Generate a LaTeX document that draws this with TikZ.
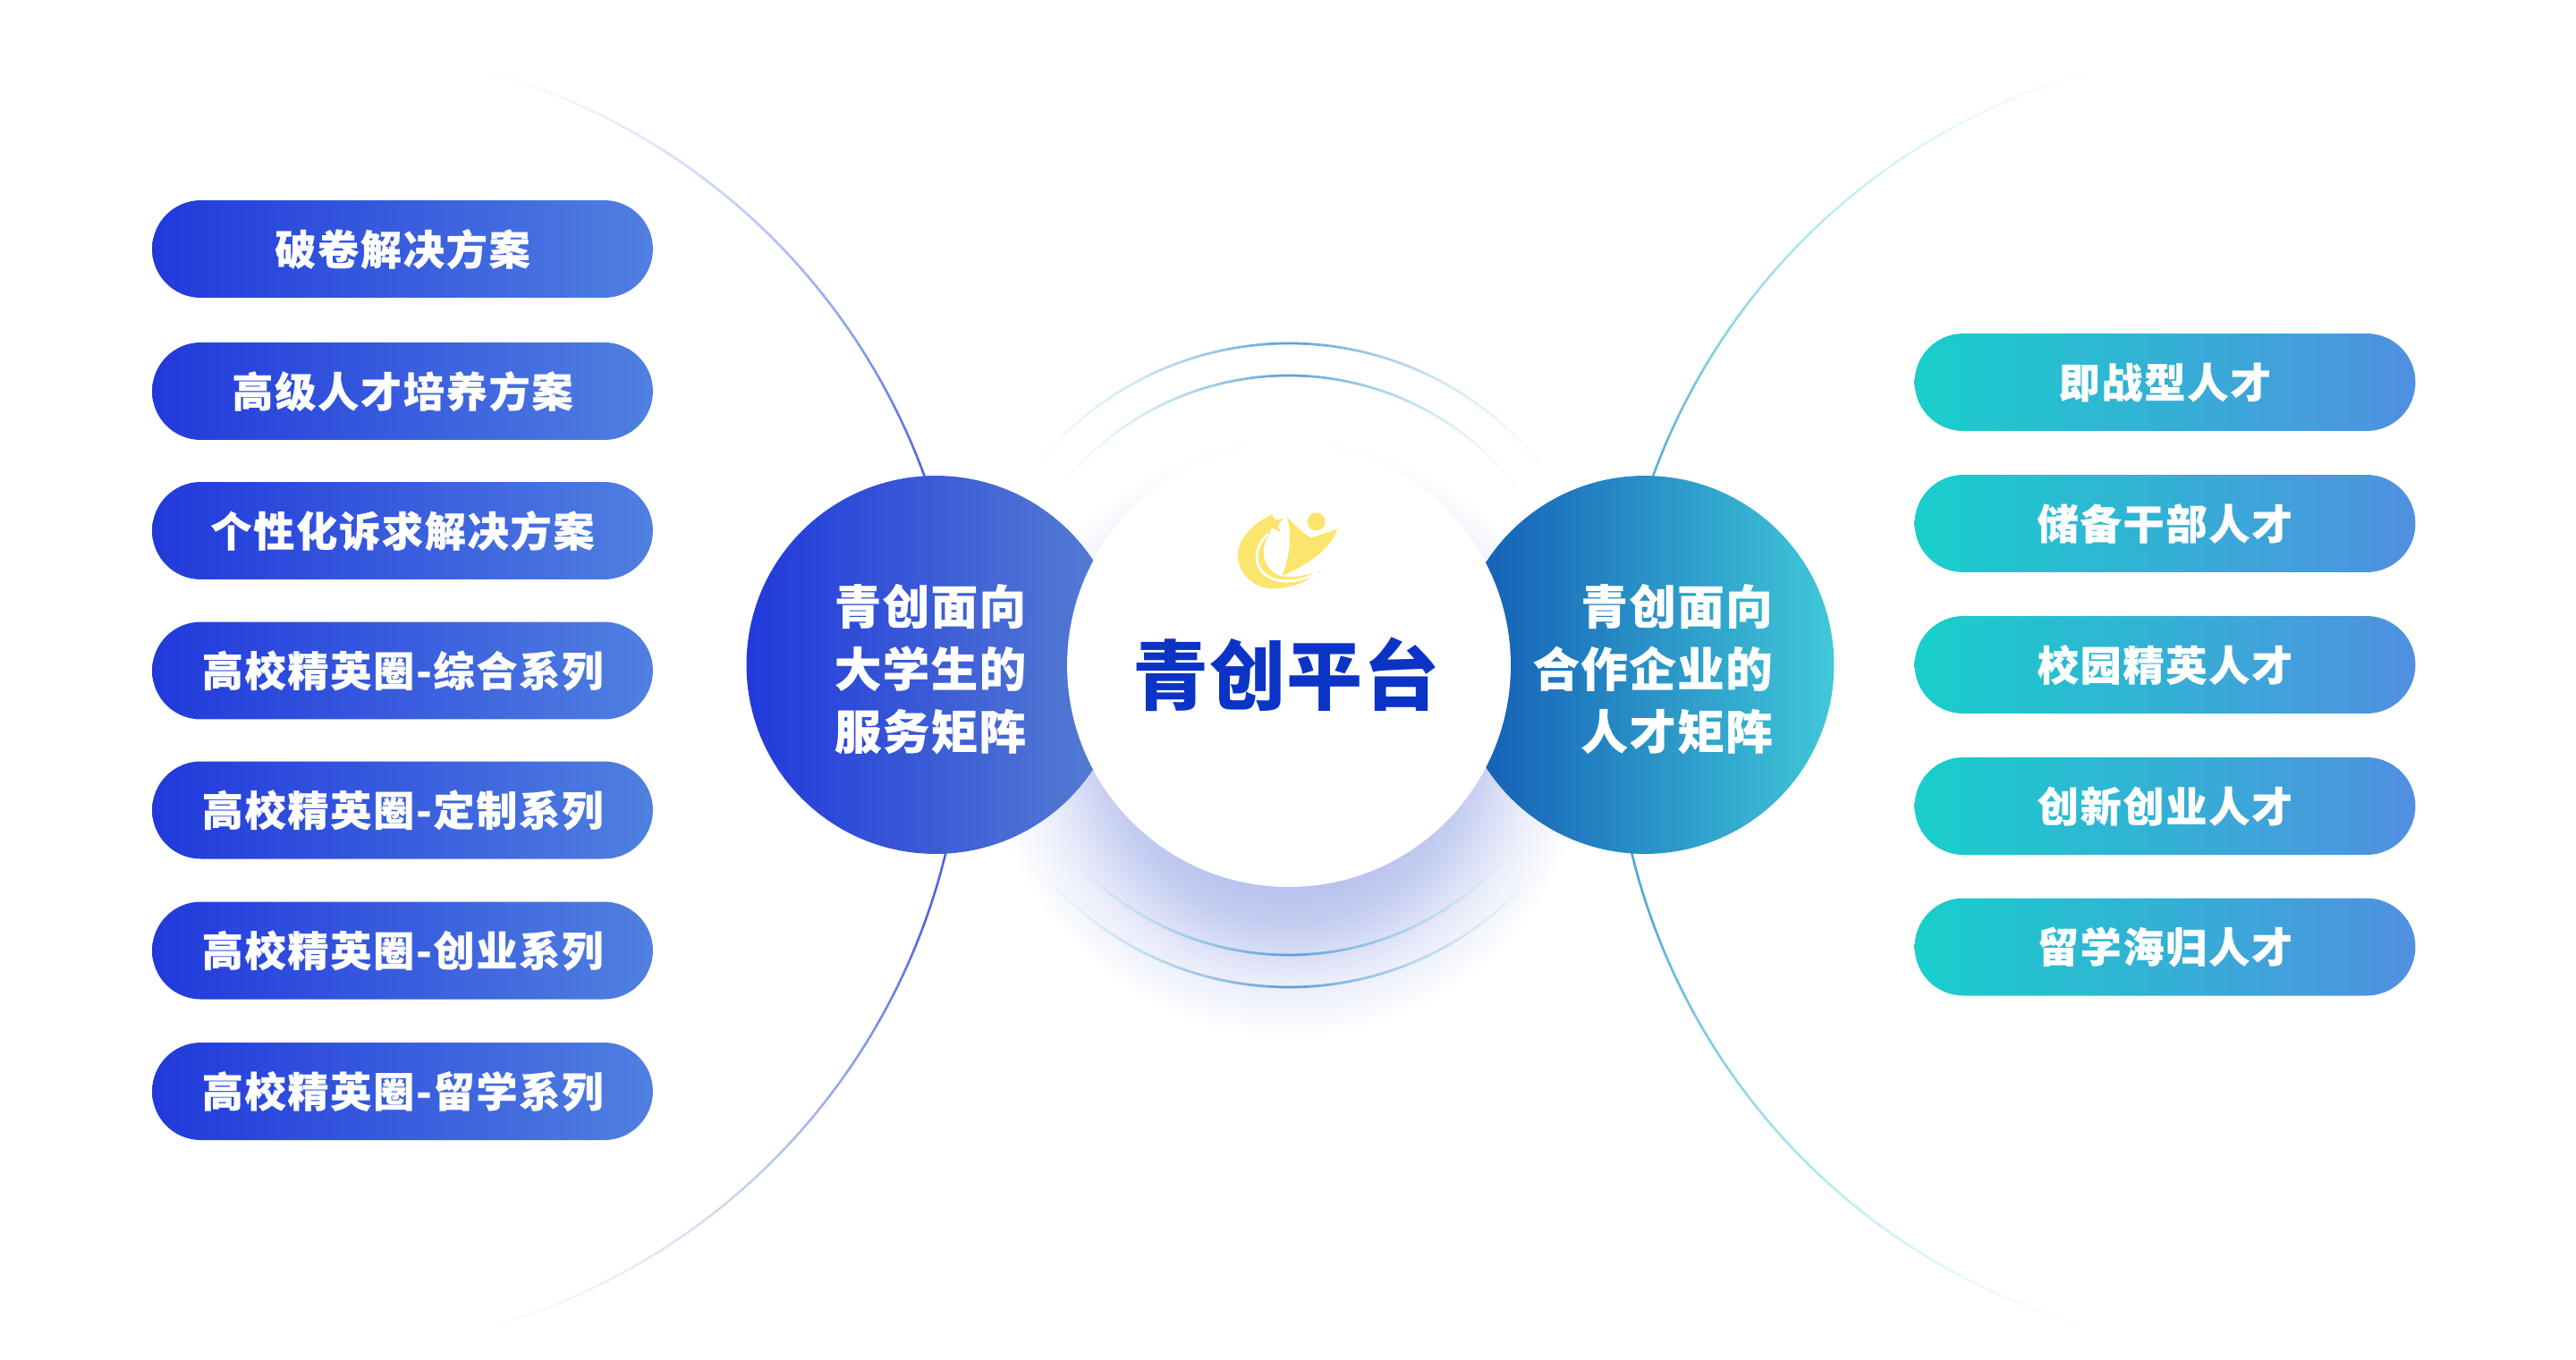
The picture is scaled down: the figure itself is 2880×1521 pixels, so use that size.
\documentclass[tikz,border=0pt]{standalone}
\usepackage{fontspec}
\newfontfamily\pillfont[LetterSpace=4,BoldFeatures={FakeBold=0.5}]{Noto Sans CJK SC}
\newfontfamily\sidefont[LetterSpace=3,BoldFeatures={FakeBold=0.5}]{Noto Sans CJK SC}
\newfontfamily\titlefont[LetterSpace=1.5]{Noto Sans CJK SC Black}
\usetikzlibrary{calc, fadings, shapes.misc}
\definecolor{blueA}{HTML}{2139DB}
\definecolor{blueB}{HTML}{5080E0}
\definecolor{tealA}{HTML}{18CFCB}
\definecolor{tealB}{HTML}{5090E0}
\definecolor{logoyellow}{HTML}{FBE56C}
\definecolor{titleblue}{HTML}{0B34C6}
\definecolor{glowblue}{HTML}{B6C1EE}
\definecolor{ringblue}{HTML}{5D9FD8}
\definecolor{ringteal}{HTML}{A8E4E6}
\definecolor{sideblue}{HTML}{1259B4}
\definecolor{sideteal}{HTML}{40C8D8}
\definecolor{arcblue}{HTML}{5F86E0}
\pgfdeclareradialshading{glowshade}{\pgfpointorigin}{color(0bp)=(glowblue);color(12bp)=(glowblue);color(15.5bp)=(glowblue!80!white);color(20.5bp)=(glowblue!28!white);color(25bp)=(white);color(50bp)=(white)}
\pgfdeclareverticalshading{endshade}{100bp}{color(0bp)=(transparent!100);color(25bp)=(transparent!100);color(33bp)=(transparent!50);color(41bp)=(transparent!8);color(59bp)=(transparent!8);color(67bp)=(transparent!50);color(75bp)=(transparent!100);color(100bp)=(transparent!100)}
\pgfdeclarehorizontalshading{sideshade}{100bp}{color(0bp)=(transparent!100);color(25bp)=(transparent!100);color(38bp)=(transparent!45);color(50bp)=(transparent!0);color(62bp)=(transparent!45);color(75bp)=(transparent!100);color(100bp)=(transparent!100)}
\tikzfading[name=sidefade, shading=sideshade]
\tikzfading[name=endfade, shading=endshade]
\tikzset{
  pill/.style={rounded rectangle, minimum width=11.2cm, minimum height=2.18cm, inner sep=0pt, text=white, font=\pillfont\bfseries\fontsize{26.2}{30}\selectfont},
  pillleft/.style={pill, left color=blueA, right color=blueB},
  pillright/.style={pill, left color=tealA, right color=tealB},
  sidelabel/.style={text=white, inner sep=0pt, font=\sidefont\bfseries\fontsize{29.8}{39.8}\selectfont},
  ringline/.style={left color=ringteal, right color=ringteal, middle color=ringblue, path fading=sidefade},
}
\begin{document}
\begin{tikzpicture}[x=0.02cm,y=-0.02cm]
\useasboundingbox[fill=white] (0,0) rectangle (2880,1521);
\coordinate (hub) at (1441,744);
\coordinate (leftarc) at (348,781);
\coordinate (rightarc) at (2534,781);
% long arcs
\shade[top color=arcblue, bottom color=arcblue, middle color=blueA!95!white, path fading=endfade]
  ($(leftarc)+(-74:731.3)$) arc[start angle=-74, end angle=74, radius=731.3]
  -- ($(leftarc)+(74:728.7)$) arc[start angle=74, end angle=-74, radius=728.7] -- cycle;
\shade[top color=tealA!80!white, bottom color=tealA!80!white, middle color=tealB!95!black, path fading=endfade]
  ($(rightarc)+(106:731.3)$) arc[start angle=106, end angle=254, radius=731.3]
  -- ($(rightarc)+(254:728.7)$) arc[start angle=254, end angle=106, radius=728.7] -- cycle;
% glow and rings
\shade[shading=glowshade] (1441,826) circle (335);
\foreach \rr/\st/\en in {360/218/322, 324/218/322, 360/38/142, 324/38/142}{
  \shade[ringline] ($(hub)+(\st:\rr+1.4)$) arc[start angle=\st, end angle=\en, radius=\rr+1.4]
    -- ($(hub)+(\en:\rr-1.4)$) arc[start angle=\en, end angle=\st, radius=\rr-1.4] -- cycle;
}
% circles
\node (leftcircle) at (1046,743.5)[circle, minimum size=8.46cm, inner sep=0pt, left color=blueA, right color=blueB!85!gray]{};
\node (rightcircle) at (1839,743.5)[circle, minimum size=8.46cm, inner sep=0pt, left color=sideblue, right color=sideteal]{};
\node (hubcircle) at (hub)[circle, minimum size=9.92cm, inner sep=0pt, fill=white]{};
\node (leftlabel) at (1040,748)[sidelabel, align=left]{青创面向\\大学生的\\服务矩阵};
\node (rightlabel) at (1982,748)[sidelabel, align=right, anchor=east]{青创面向\\合作企业的\\人才矩阵};
\node (hublabel) at (1438,754)[text=titleblue, inner sep=0pt, font=\titlefont\fontsize{48.4}{52}\selectfont]{青创平台};
% logo
\begin{scope}[shift={(1340,550)}, scale=0.3333]
\fill[logoyellow] (248,76) .. controls (170,110) and (130,170) .. (132,215) .. controls (135,280) and (190,325) .. (250,325)
  .. controls (310,325) and (370,300) .. (410,265) .. controls (360,285) and (300,290) .. (270,280)
  .. controls (225,265) and (195,200) .. (240,140) -- cycle;
\draw[white, line width=1.6pt] (235,140) .. controls (175,190) and (180,280) .. (270,298) .. controls (320,305) and (370,290) .. (402,270);
\fill[logoyellow] (245,75) -- (256,94) -- (285,90) -- (268,110) -- (273,134) -- (248,122) -- (225,132) -- (232,110) -- (210,120) -- (236,96) -- cycle;
\fill[logoyellow] (297,85) .. controls (325,115) and (350,140) .. (378,155) -- (465,125)
  .. controls (450,180) and (380,240) .. (280,282) .. controls (305,220) and (315,150) .. (297,85) -- cycle;
\fill[logoyellow] (395,100) circle (30);
\end{scope}
% left pills
\foreach \i/\yy/\txt in {1/278.5/破卷解决方案, 2/437.5/高级人才培养方案, 3/593.5/个性化诉求解决方案, 4/750/高校精英圈-综合系列, 5/906/高校精英圈-定制系列, 6/1063/高校精英圈-创业系列, 7/1220.5/高校精英圈-留学系列}{
  \node (leftpill\i) at (450,\yy)[pillleft]{\txt};
}
% right pills
\foreach \i/\yy/\txt in {1/427.5/即战型人才, 2/585.5/储备干部人才, 3/743.5/校园精英人才, 4/901.5/创新创业人才, 5/1059/留学海归人才}{
  \node (rightpill\i) at (2420.5,\yy)[pillright]{\txt};
}
\end{tikzpicture}
\end{document}
